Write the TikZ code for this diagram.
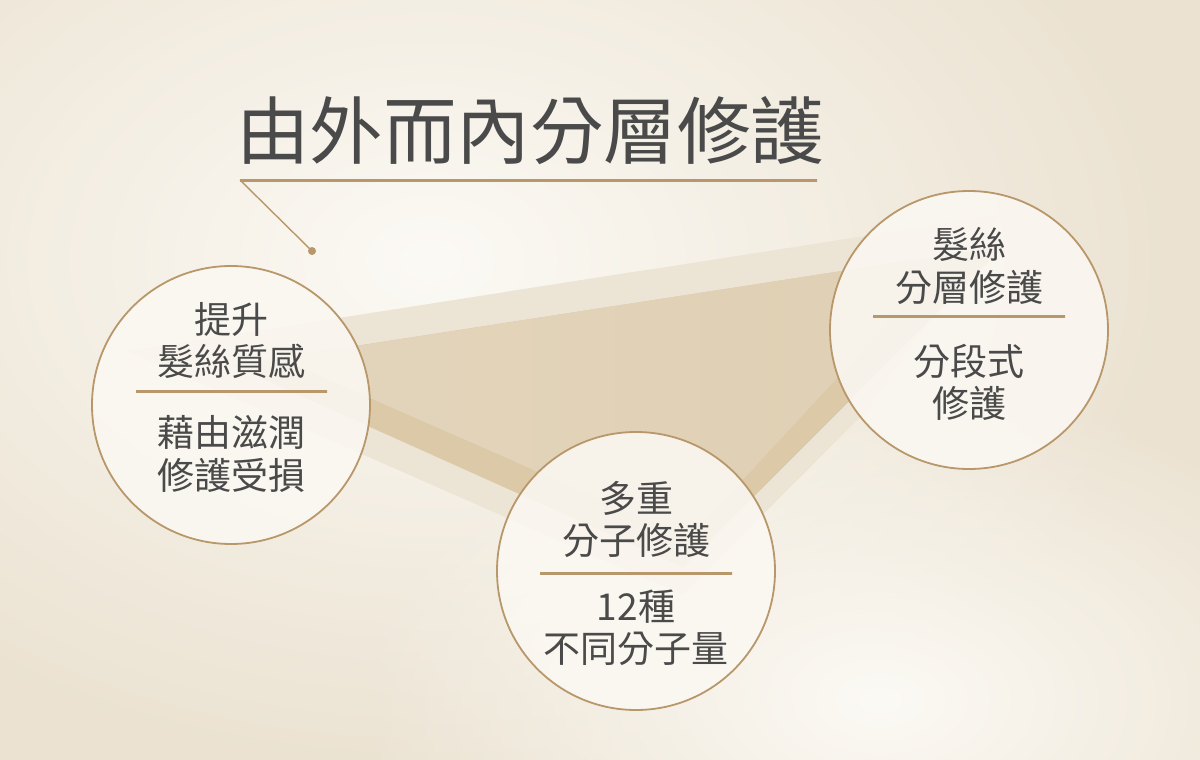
\documentclass[tikz,border=0pt]{standalone}
\usepackage{fontspec}
\newfontfamily\cjk{Noto Sans CJK TC}
\usetikzlibrary{fadings}
\tikzfading[name=softglow, inner color=transparent!0, outer color=transparent!100]
\definecolor{bgbase}{HTML}{EBE2D1}
\definecolor{glow}{HTML}{FCFAF5}
\definecolor{gold}{HTML}{B8976A}
\definecolor{goldhi}{HTML}{E0CBA5}
\definecolor{txt}{HTML}{4A4A4A}
\definecolor{bandlight}{HTML}{ECE4D4}
\definecolor{bandhi}{HTML}{F4EFE5}
\definecolor{banddark}{HTML}{DBC9A8}
\definecolor{faceA}{HTML}{E3D5BC}
\definecolor{faceHi}{HTML}{F2EADB}
\definecolor{faceB}{HTML}{DFCFB3}
\definecolor{circfill}{HTML}{FBF8F2}
\tikzset{
  ring/.style={circle, draw=gold, line width=1.8pt, fill=circfill, fill opacity=0.88, minimum size=278pt, inner sep=0pt},
  bodytext/.style={font=\cjk\fontsize{37}{42.5}\selectfont, text=txt, align=center, inner sep=0pt},
  divider/.style={left color=gold, middle color=goldhi, right color=gold},
}
\begin{document}
\begin{tikzpicture}[x=1pt,y=-1pt]
\useasboundingbox (0,0) rectangle (1200,760);
% background
\fill[bgbase] (0,0) rectangle (1200,760);
\fill[glow, path fading=softglow] (430,260) ellipse [x radius=760pt, y radius=520pt];
\fill[glow, path fading=softglow] (880,700) ellipse [x radius=520pt, y radius=320pt];
% layered triangle
\fill[bandlight] (127,351) -- (1000,215) -- (870,407) -- (683,595) -- cycle;
\begin{scope}
  \clip (127,351) -- (1000,215) -- (870,407) -- (683,595) -- cycle;
  \shade[left color=bandlight, middle color=bandhi, right color=bandlight] (505,200) rectangle (645,600);
\end{scope}
\fill[banddark] (232,365) -- (1004,246) -- (683,567.5) -- cycle;
\begin{scope}
  \clip (279,358) -- (952,254) -- (689,538) -- cycle;
  \shade[left color=faceA, right color=faceB] (279,250) rectangle (952,540);
  \shade[left color=faceB!35!faceA, middle color=faceHi, right color=faceB!53!faceA] (515,240) rectangle (635,560);
\end{scope}
% title
\node[font=\cjk\fontsize{73.5}{80}\selectfont, text=txt, inner sep=0pt] (title) at (530,131) {由外而內分層修護};
\coordinate (ulL) at (240,180);
\coordinate (ulR) at (817,180);
\shade[divider] (240,179) rectangle (817,181.2);
\node[circle, fill=gold, minimum size=8pt, inner sep=0pt] (dot) at (312,251) {};
\draw[gold, line width=1.4pt] (ulL) -- (dot.center);
% circles
\node[ring] (L) at (231,405) {};
\node[ring] (B) at (636,571) {};
\node[ring] (R) at (969,330) {};
% left circle text
\node[bodytext] (Lt) at (231,340.5) {提升\\髮絲質感};
\shade[divider] (136,390) rectangle (327,392.4);
\node[bodytext] (Lb) at (231,454) {藉由滋潤\\修護受損};
% bottom circle text
\node[bodytext] (Bt) at (636,519.5) {多重\\分子修護};
\shade[divider] (540,572) rectangle (732,574.4);
\node[bodytext] (Bb) at (636,627.5) {12種\\不同分子量};
% right circle text
\node[bodytext] (Rt) at (969,266) {髮絲\\分層修護};
\shade[divider] (873,315) rectangle (1065,317.4);
\node[bodytext] (Rb) at (969,382.5) {分段式\\修護};
\end{tikzpicture}
\end{document}
